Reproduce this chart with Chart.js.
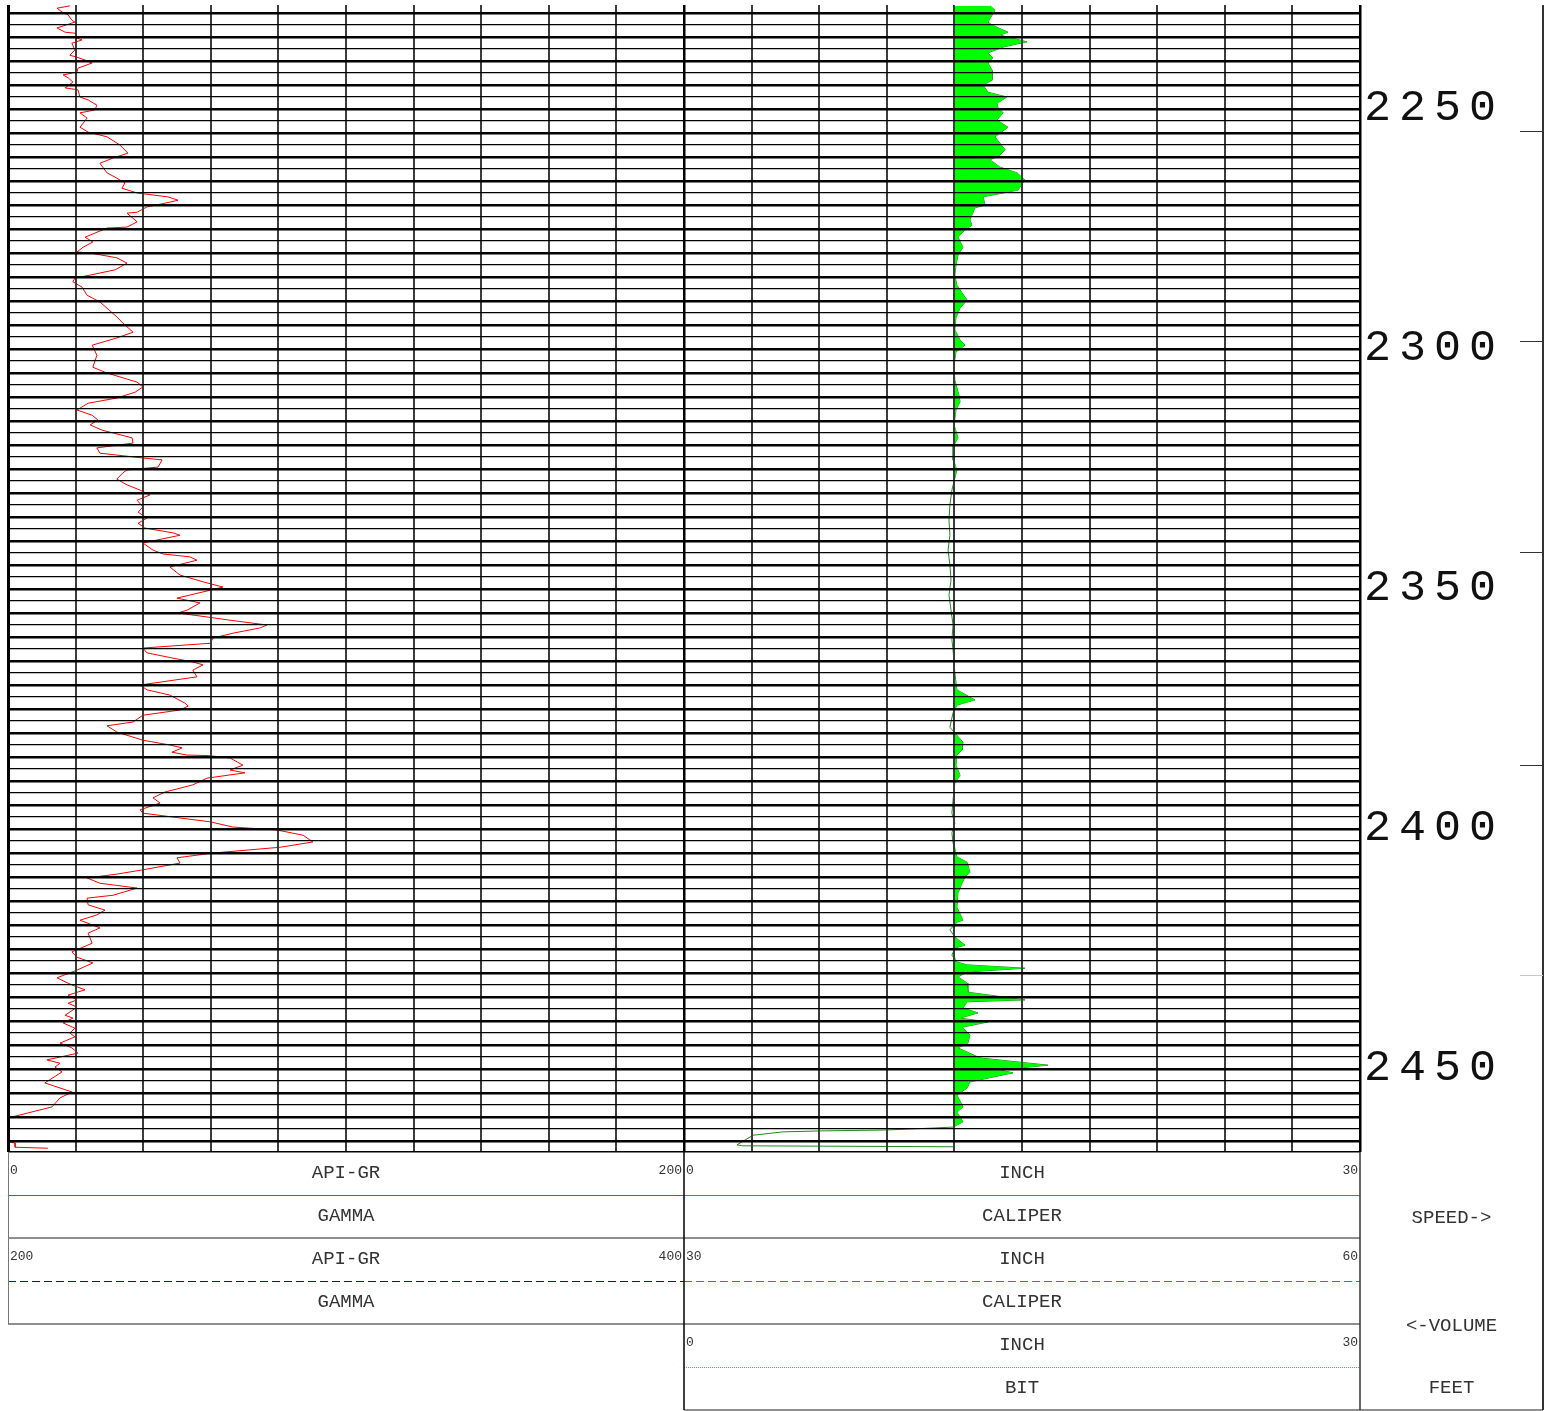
<!DOCTYPE html>
<html>
<head>
<meta charset="utf-8">
<script src="https://cdn.jsdelivr.net/npm/chart.js@4.4.1/dist/chart.umd.min.js"></script>
<style>
html,body{margin:0;padding:0;background:#fff;}
body{width:1551px;height:1411px;position:relative;overflow:hidden;}
#log{position:absolute;left:0;top:0;}
.txt{position:absolute;font-family:"Liberation Mono","Courier New",monospace;color:#333;white-space:nowrap;}
.lbl{font-size:19px;text-align:center;height:43px;line-height:43px;}
.num{font-size:13px;height:38px;line-height:38px;}
.depth{font-size:45px;letter-spacing:8px;color:#111;line-height:56px;height:56px;transform:translateY(-50%);}
</style>
</head>
<body>
<canvas id="log" width="1551" height="1411"></canvas>
<script>
// ---------------- DATA ----------------
const depthMin = 2228.33, depthMax = 2467.29;
const gridStart = 2230, gridEnd = 2465, gridStep = 2.5, majorStep = 5;
const depthLabels = [2250, 2300, 2350, 2400, 2450];
const speedMarks = [2254.5, 2298.3, 2342.3, 2386.7, 2430.4];

// Gamma ray (API) vs depth (ft)
const gammaDepth = [
 2228.5, 2229.0, 2229.8, 2230.4, 2231.5, 2231.9, 2232.1, 2233.1, 2234.0, 2234.2,
 2235.2, 2235.6, 2236.3, 2237.7, 2238.8, 2239.2, 2239.8, 2240.4, 2241.5, 2242.3,
 2242.9, 2243.5, 2244.4, 2245.6, 2246.0, 2247.5, 2248.1, 2249.2, 2250.2, 2250.8,
 2251.9, 2253.8, 2254.8, 2255.8, 2257.5, 2259.2, 2260.2, 2261.3, 2263.3, 2264.4,
 2265.4, 2266.5, 2267.5, 2268.3, 2269.0, 2269.4, 2270.4, 2271.5, 2271.7, 2273.5,
 2274.6, 2274.8, 2276.7, 2277.7, 2278.8, 2279.8, 2280.0, 2281.0, 2282.1, 2283.5,
 2284.6, 2285.2, 2286.0, 2287.1, 2288.8, 2290.2, 2291.5, 2293.3, 2294.6, 2296.5,
 2297.7, 2299.2, 2301.3, 2303.8, 2305.0, 2306.9, 2307.9, 2309.0, 2310.2, 2311.3,
 2312.7, 2313.8, 2314.8, 2315.8, 2316.9, 2318.5, 2319.6, 2320.6, 2321.7, 2322.7,
 2323.1, 2324.6, 2325.2, 2325.8, 2327.1, 2328.3, 2329.4, 2330.4, 2331.5, 2332.9,
 2334.0, 2335.2, 2336.3, 2337.3, 2338.3, 2338.8, 2340.4, 2341.9, 2342.7, 2343.3,
 2344.0, 2345.4, 2347.1, 2348.5, 2349.6, 2350.6, 2351.9, 2352.9, 2354.4, 2355.0,
 2356.0, 2356.5, 2357.5, 2358.1, 2359.2, 2360.2, 2361.3, 2362.3, 2363.3, 2364.4,
 2365.2, 2365.8, 2366.9, 2368.3, 2370.0, 2371.0, 2372.1, 2373.8, 2374.4, 2375.2,
 2376.3, 2377.7, 2378.5, 2379.8, 2381.5, 2382.5, 2383.1, 2384.0, 2384.6, 2384.7,
 2385.2, 2386.7, 2387.7, 2388.3, 2389.4, 2390.8, 2392.3, 2393.5, 2394.6, 2396.0,
 2396.7, 2397.7, 2398.5, 2399.6, 2400.2, 2401.3, 2402.7, 2403.8, 2405.0, 2406.0,
 2407.1, 2408.5, 2409.4, 2410.2, 2411.3, 2412.3, 2413.8, 2414.4, 2415.8, 2416.9,
 2417.9, 2419.0, 2420.6, 2421.7, 2423.8, 2425.6, 2426.7, 2427.9, 2429.4, 2431.0,
 2432.5, 2433.5, 2434.6, 2435.6, 2436.3, 2437.1, 2438.8, 2439.4, 2440.4, 2441.5,
 2442.5, 2443.3, 2444.6, 2445.6, 2446.7, 2448.1, 2448.8, 2449.6, 2450.6, 2452.9,
 2454.8, 2456.0, 2457.9, 2460.2, 2465.2, 2465.4, 2466.3, 2466.5
];
const gammaApi = [
 18.3, 14.5, 16.0, 17.8, 18.9, 19.8, 18.9, 14.5, 16.9, 19.8,
 20.4, 21.9, 18.9, 19.8, 18.3, 20.4, 22.8, 24.9, 20.7, 20.4,
 16.3, 17.8, 19.2, 16.9, 20.7, 21.3, 23.7, 26.3, 25.7, 21.3,
 23.4, 21.3, 23.7, 29.3, 33.1, 35.5, 31.1, 27.2, 29.3, 32.2,
 34.6, 33.7, 38.2, 47.3, 50.3, 47.9, 41.1, 38.2, 35.2, 38.2,
 35.2, 29.3, 22.8, 25.1, 22.2, 20.4, 24.3, 32.2, 35.2, 31.7,
 24.3, 19.8, 19.2, 21.9, 23.4, 27.2, 29.3, 32.2, 34.0, 37.0,
 32.2, 24.9, 26.3, 25.1, 29.3, 38.2, 39.9, 37.6, 32.2, 23.7,
 20.4, 24.9, 26.6, 24.3, 27.8, 36.7, 37.0, 26.3, 27.2, 39.9,
 45.6, 44.4, 35.2, 34.0, 32.2, 35.2, 39.1, 42.0, 38.2, 39.9,
 38.5, 41.1, 38.5, 40.5, 48.8, 50.9, 39.9, 42.9, 45.9, 53.8,
 55.9, 47.9, 50.9, 57.7, 63.6, 57.7, 50.0, 56.8, 53.0, 50.3,
 60.7, 65.7, 76.6, 74.6, 66.6, 60.7, 59.8, 39.9, 41.1, 48.8,
 54.7, 57.7, 54.7, 55.9, 39.1, 41.1, 47.9, 52.4, 53.3, 50.9,
 39.9, 37.0, 29.3, 32.2, 39.9, 47.9, 51.5, 48.5, 53.0, 59.2,
 65.7, 69.5, 65.7, 70.1, 58.9, 54.7, 46.4, 42.9, 45.0, 39.1,
 39.9, 50.9, 59.8, 66.6, 79.6, 87.3, 90.2, 80.5, 60.7, 50.0,
 50.9, 39.9, 32.2, 23.4, 27.2, 38.2, 31.1, 23.4, 23.7, 28.7,
 26.3, 21.3, 27.2, 23.7, 24.9, 18.9, 20.4, 25.1, 20.4, 14.5,
 18.9, 22.8, 17.8, 20.4, 17.8, 20.4, 16.9, 19.2, 16.3, 19.8,
 18.3, 19.8, 15.4, 18.9, 20.7, 11.5, 15.4, 13.9, 16.0, 10.9,
 19.0, 15.4, 13.0, 0.0, 0.0, 2.1, 2.1, 11.8
];

// Caliper (inch) vs depth (ft)
const caliperDepth = [
 2228.5, 2229.4, 2231.9, 2232.5, 2234.0, 2234.6, 2236.0, 2237.1, 2238.3, 2239.4,
 2240.4, 2241.9, 2244.0, 2245.0, 2246.5, 2247.5, 2248.8, 2249.6, 2250.8, 2252.3,
 2253.8, 2255.8, 2258.5, 2259.6, 2260.6, 2262.1, 2263.3, 2264.8, 2266.9, 2268.3,
 2270.0, 2270.6, 2273.1, 2274.2, 2275.2, 2276.7, 2278.8, 2280.4, 2282.5, 2284.6,
 2286.7, 2288.3, 2289.8, 2291.5, 2293.5, 2296.0, 2298.1, 2299.2, 2300.6, 2303.3,
 2306.5, 2309.6, 2311.0, 2312.7, 2315.8, 2318.5, 2320.0, 2323.1, 2325.2, 2326.9,
 2329.4, 2332.5, 2335.6, 2338.8, 2341.9, 2345.0, 2348.1, 2351.3, 2354.4, 2357.5,
 2360.6, 2362.7, 2367.5, 2371.0, 2373.1, 2374.2, 2375.8, 2378.8, 2380.0, 2381.9,
 2383.5, 2384.6, 2386.7, 2388.8, 2390.4, 2394.0, 2396.7, 2398.8, 2400.8, 2402.9,
 2405.8, 2406.9, 2409.0, 2410.0, 2411.3, 2413.3, 2416.3, 2419.0, 2419.4, 2421.0,
 2422.5, 2424.2, 2424.8, 2426.3, 2427.7, 2428.3, 2429.0, 2429.8, 2430.8, 2432.1,
 2434.0, 2435.6, 2436.0, 2437.3, 2438.3, 2439.4, 2440.2, 2441.3, 2442.9, 2444.6,
 2445.6, 2447.7, 2449.2, 2450.2, 2450.8, 2452.7, 2454.0, 2455.4, 2457.9, 2459.0,
 2461.0, 2462.1, 2462.3, 2462.7, 2462.9, 2463.1, 2463.8, 2465.8, 2466.0, 2466.2
];
const caliperInch = [
 13.58, 13.80, 13.49, 13.67, 14.38, 14.02, 15.22, 14.16, 13.49, 13.71,
 13.49, 13.67, 13.67, 13.27, 13.49, 14.33, 13.89, 13.93, 14.16, 13.89,
 14.38, 13.80, 14.25, 14.02, 13.58, 14.02, 14.78, 15.13, 14.82, 13.27,
 13.36, 12.91, 12.69, 12.78, 12.47, 12.16, 12.38, 12.16, 12.07, 12.02,
 12.11, 12.34, 12.56, 12.25, 12.07, 12.02, 12.25, 12.47, 12.07, 11.98,
 12.02, 12.20, 12.25, 12.07, 11.98, 12.16, 11.98, 11.94, 12.11, 12.02,
 11.89, 11.80, 11.76, 11.80, 11.72, 11.80, 11.85, 11.76, 11.85, 11.94,
 11.89, 11.94, 12.02, 12.11, 12.91, 12.11, 11.94, 11.80, 12.02, 12.38,
 12.34, 12.11, 12.07, 12.25, 12.02, 11.94, 11.89, 12.02, 11.89, 11.94,
 12.11, 12.56, 12.69, 12.47, 12.34, 12.16, 12.11, 12.38, 12.11, 11.80,
 12.02, 12.47, 12.02, 11.89, 12.11, 12.56, 15.13, 12.56, 12.16, 12.56,
 12.60, 15.13, 12.56, 12.38, 13.05, 12.25, 13.49, 12.34, 12.69, 12.60,
 12.16, 13.14, 16.15, 14.02, 14.60, 12.69, 12.56, 12.11, 12.38, 12.11,
 12.38, 11.94, 11.05, 9.01, 6.04, 4.39, 3.06, 2.35, 2.60, 11.94
];

// Bit size (inch)
const bitDepth = [2228.33, 2467.29];
const bitSize = [12, 12];

// Scales: gamma 0-200 on left track (wraps 200-400 on right), caliper 0-30 on right track
const gammaScale = [0, 400];
const caliperScale = [-30, 30];
const gammaGridStep = 20;

// Header texts
const leftHeader = [['0', 'API-GR', '200'], ['', 'GAMMA', ''], ['200', 'API-GR', '400'], ['', 'GAMMA', '']];
const midHeader = [['0', 'INCH', '30'], ['', 'CALIPER', ''], ['30', 'INCH', '60'], ['', 'CALIPER', ''], ['0', 'INCH', '30'], ['', 'BIT', '']];
const rightHeader = [['SPEED->', 1.05], ['<-VOLUME', 3.55], ['FEET', 5]];

// ---------------- CHART ----------------
const pts = (ys, xs) => ys.map((d, i) => ({x: xs[i], y: d}));

const frame = {
  id: 'frame',
  afterDraw(chart) {
    const {ctx, chartArea: a, scales: {xg, y}} = chart;
    const L = xg.getPixelForValue(0), M = xg.getPixelForValue(200), R = xg.getPixelForValue(400);
    const E = R + 183, T = a.bottom, H = 43;
    const hl = (x1, x2, yy, color, w, dash) => {
      ctx.save(); ctx.beginPath(); ctx.strokeStyle = color; ctx.lineWidth = w;
      ctx.setLineDash(dash || []);
      const py = Math.round(yy) + ((Math.round(w) % 2) ? 0.5 : 0);
      ctx.moveTo(x1, py); ctx.lineTo(x2, py); ctx.stroke(); ctx.restore();
    };
    const vl = (xx, y1, y2, color, w) => {
      ctx.save(); ctx.beginPath(); ctx.strokeStyle = color; ctx.lineWidth = w;
      const px = Math.round(xx) + ((Math.round(w) % 2) ? 0.5 : 0);
      ctx.moveTo(px, y1); ctx.lineTo(px, y2); ctx.stroke(); ctx.restore();
    };
    hl(L, M, T + H, '#ff2020', 1);
    hl(M, R, T + H, '#3a963a', 1);
    hl(L, R, T + 2 * H, '#6a6a6a', 1.5);
    hl(L, M, T + 3 * H, '#0000ff', 1, [8, 4]);
    hl(M, R, T + 3 * H, '#ff00ff', 1, [8, 4]);
    hl(L, R, T + 4 * H, '#6a6a6a', 1.5);
    hl(M, R, T + 5 * H, '#e060e0', 1, [1, 1]);
    hl(M, E, T + 6 * H, '#6a6a6a', 1.5);
    vl(L, T, T + 4 * H, '#777', 1);
    vl(M, T, T + 6 * H, '#000', 1.5);
    vl(R, T, T + 6 * H, '#333', 1.5);
    vl(E, a.top, T + 6 * H, '#333', 2);
    speedMarks.forEach((d, i) => {
      hl(E - 23, E, y.getPixelForValue(d), i === speedMarks.length - 1 ? '#c8c8c8' : '#333', 1);
    });
  }
};

const chart = new Chart(document.getElementById('log'), {
  type: 'line',
  data: {
    datasets: [
      {label: 'GAMMA', data: pts(gammaDepth, gammaApi), xAxisID: 'xg', yAxisID: 'y',
       borderColor: '#ff0000', borderWidth: 1, pointRadius: 0, tension: 0, fill: false},
      {label: 'BIT', data: pts(bitDepth, bitSize), xAxisID: 'xc', yAxisID: 'y',
       borderColor: 'rgba(0,0,0,0)', borderWidth: 0, pointRadius: 0, fill: false},
      {label: 'CALIPER-FILL', data: pts(caliperDepth, caliperInch.map(v => Math.max(v, bitSize[0]))),
       xAxisID: 'xc', yAxisID: 'y', borderWidth: 0, borderColor: 'rgba(0,0,0,0)',
       backgroundColor: '#00ff00', pointRadius: 0, tension: 0, fill: 1},
      {label: 'CALIPER', data: pts(caliperDepth, caliperInch), xAxisID: 'xc', yAxisID: 'y',
       borderColor: '#1c8c1c', borderWidth: 1, pointRadius: 0, tension: 0, fill: false}
    ]
  },
  options: {
    indexAxis: 'y',
    responsive: false,
    animation: false,
    devicePixelRatio: 1,
    layout: {padding: {left: 8, top: 5, right: 191, bottom: 259}},
    plugins: {legend: {display: false}, tooltip: {enabled: false}, title: {display: false}},
    scales: {
      xg: {
        type: 'linear', position: 'bottom', min: gammaScale[0], max: gammaScale[1],
        afterBuildTicks: s => { const t = []; for (let v = gammaScale[0]; v <= gammaScale[1]; v += gammaGridStep) t.push({value: v}); s.ticks = t; },
        ticks: {display: false},
        border: {display: false},
        grid: {
          drawTicks: false, z: 1,
          color: c => (c.tick && (c.tick.value % 200 === 0)) ? '#000' : '#3c3c3c',
          lineWidth: c => (c.tick && c.tick.value === 0) ? 3 : ((c.tick && c.tick.value % 200 === 0) ? 2.5 : 2)
        }
      },
      xc: {
        type: 'linear', position: 'top', min: caliperScale[0], max: caliperScale[1], display: false
      },
      y: {
        type: 'linear', position: 'left', reverse: true, min: depthMin, max: depthMax,
        afterBuildTicks: s => { const t = [{value: depthMin}]; for (let d = gridStart; d <= gridEnd; d += gridStep) t.push({value: d}); t.push({value: depthMax}); s.ticks = t; },
        ticks: {display: false},
        border: {display: false},
        grid: {
          drawTicks: false, z: 1, color: '#000',
          lineWidth: c => {
            const v = c.tick ? c.tick.value : 0;
            if (v === depthMin) return 0;
            if (v === depthMax) return 1.5;
            return (v % majorStep === 0) ? 2.5 : 1.2;
          }
        }
      }
    }
  },
  plugins: [frame]
});

// ---------------- TEXT ----------------
(function () {
  const a = chart.chartArea, xg = chart.scales.xg, y = chart.scales.y;
  const L = xg.getPixelForValue(0), M = xg.getPixelForValue(200), R = xg.getPixelForValue(400);
  const E = R + 183, T = a.bottom, H = 43;
  const add = (cls, text, style) => {
    const d = document.createElement('div');
    d.className = 'txt ' + cls; d.textContent = text;
    Object.assign(d.style, style); document.body.appendChild(d);
  };
  const panel = (rows, x0, x1) => rows.forEach((r, i) => {
    const top = T + i * H;
    if (r[0]) add('num', r[0], {left: (x0 + 2) + 'px', top: top + 'px'});
    if (r[2]) add('num', r[2], {left: x0 + 'px', width: (x1 - x0 - 2) + 'px', textAlign: 'right', top: top + 'px'});
    add('lbl', r[1], {left: x0 + 'px', width: (x1 - x0) + 'px', top: top + 'px'});
  });
  panel(leftHeader, L, M);
  panel(midHeader, M, R);
  rightHeader.forEach(r => add('lbl', r[0], {left: R + 'px', width: (E - R) + 'px', top: (T + r[1] * H) + 'px'}));
  depthLabels.forEach(d => add('depth', String(d), {left: (R + 4) + 'px', top: y.getPixelForValue(d) + 'px'}));
})();
</script>
</body>
</html>
